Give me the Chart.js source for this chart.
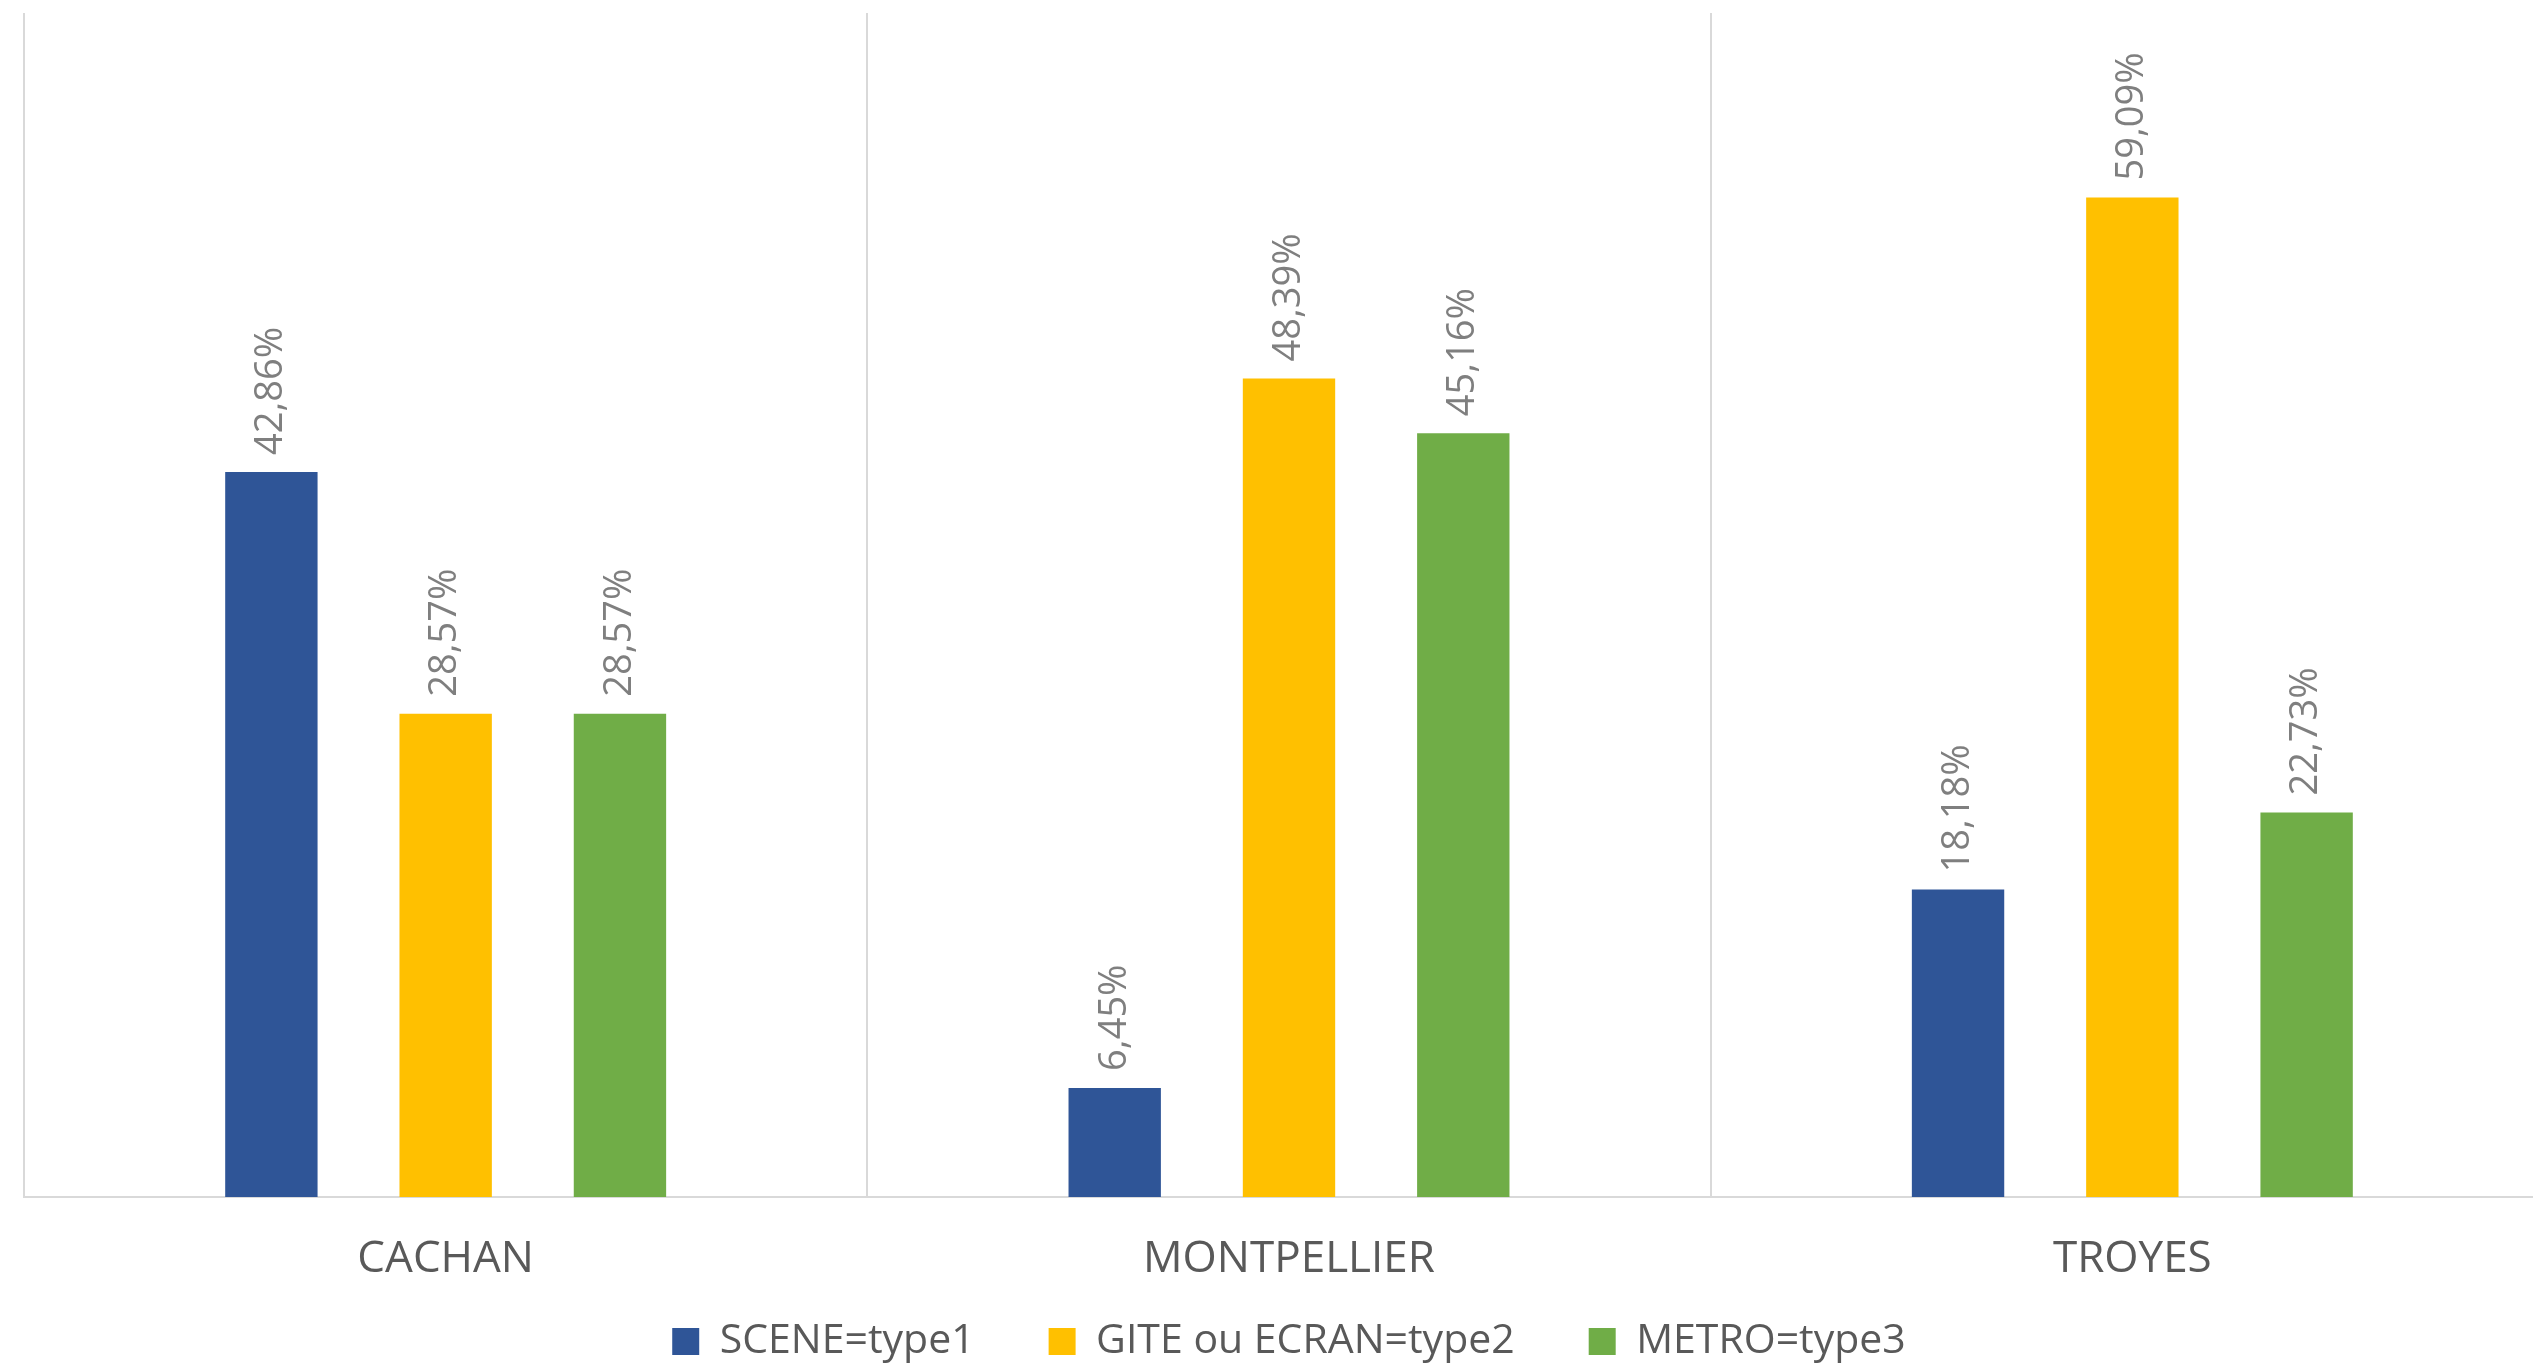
<!DOCTYPE html>
<html>
<head>
<meta charset="utf-8">
<script src="https://cdn.jsdelivr.net/npm/chart.js@4"></script>
<style>
  html, body { margin: 0; padding: 0; background: #fff; overflow: hidden; }
</style>
</head>
<body>
<canvas id="chart" width="2590" height="1364"></canvas>
<script>
var villes = ['CACHAN', 'MONTPELLIER', 'TROYES'];
var type1 = [42.86, 6.45, 18.18];
var type2 = [28.57, 48.39, 59.09];
var type3 = [28.57, 45.16, 22.73];
var noms = ['SCENE=type1', 'GITE ou ECRAN=type2', 'METRO=type3'];
var couleurs = ['#2F5597', '#FFC000', '#70AD47'];

// labels de valeur, tournés à la verticale au-dessus des barres
var etiquettes = {
    id: 'etiquettes',
    afterDatasetsDraw: function (chart) {
        var ctx = chart.ctx;
        ctx.save();
        ctx.font = '38px "Open Sans"';
        ctx.fillStyle = '#7f7f7f';
        ctx.textAlign = 'left';
        ctx.textBaseline = 'middle';
        chart.data.datasets.forEach(function (ds, i) {
            chart.getDatasetMeta(i).data.forEach(function (bar, j) {
                var txt = ds.data[j].toFixed(2).replace('.', ',') + '%';
                ctx.save();
                ctx.translate(bar.x, bar.y - 17);
                ctx.rotate(-Math.PI / 2);
                ctx.fillText(txt, 0, 0);
                ctx.restore();
            });
        });
        ctx.restore();
    }
};

// l'axe x est compté court dans la mise en page (la légende remonte),
// on lui rend sa hauteur après coup pour que les noms ne soient pas coupés
var axeLong = {
    id: 'axeLong',
    afterLayout: function (chart) {
        var x = chart.scales.x;
        x.bottom = x.top + 130;
        x.height = 130;
    }
};

var series = [type1, type2, type3];
var datasets = series.map(function (d, i) {
    return {
        label: noms[i],
        data: d,
        backgroundColor: couleurs[i],
        borderWidth: 0,
        barPercentage: 0.53,
        categoryPercentage: 0.62
    };
});

var ctx = document.getElementById('chart').getContext('2d');
new Chart(ctx, {
    type: 'bar',
    data: { labels: villes, datasets: datasets },
    plugins: [etiquettes, axeLong],
    options: {
        responsive: false,
        animation: false,
        layout: { padding: { left: 24, right: 36, top: 13, bottom: 0 } },
        scales: {
            x: {
                grid: { color: '#d9d9d9', lineWidth: 2, drawTicks: false, offset: true },
                border: { color: '#d9d9d9', width: 2 },
                ticks: {
                    color: '#595959',
                    padding: 36,
                    font: { family: 'Open Sans', size: 44 }
                },
                afterFit: function (scale) { scale.height = 50; }
            },
            y: { display: false, min: 0, max: 70 }
        },
        plugins: {
            tooltip: { enabled: false },
            legend: {
                position: 'bottom',
                maxHeight: 117,
                labels: {
                    boxWidth: 27,
                    boxHeight: 27,
                    padding: 74,
                    color: '#595959',
                    font: { family: 'Open Sans', size: 41 }
                }
            }
        }
    }
});
</script>
</body>
</html>
